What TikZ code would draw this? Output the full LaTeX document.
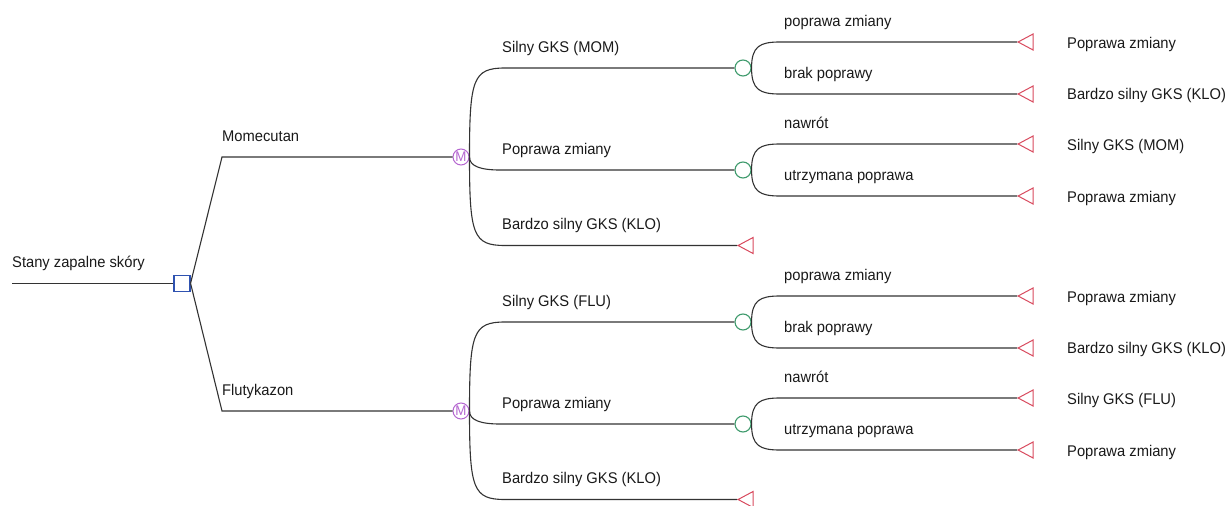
\documentclass[tikz,border=0pt]{standalone}
\usepackage{fontspec}
\setmainfont{Liberation Sans}[FakeStretch=0.95]
\usetikzlibrary{shapes.geometric}
\definecolor{decblue}{HTML}{2F52B0}
\definecolor{mpurple}{HTML}{B465D0}
\definecolor{chgreen}{HTML}{3E9A6C}
\definecolor{endred}{HTML}{D84A5E}
\definecolor{edgegray}{HTML}{333333}
\begin{document}
\begin{tikzpicture}[x=1pt, y=-1pt]
\tikzstyle{txt}      = [anchor=base west, inner sep=0pt, font=\fontsize{15.5}{18}\selectfont, text=black!90]
\tikzstyle{decision} = [rectangle, draw=decblue, line width=1.1pt, minimum size=16pt, inner sep=0pt]
\tikzstyle{markov}   = [circle, draw=mpurple, line width=1pt, minimum size=16pt, inner sep=0pt, text=mpurple, font=\fontsize{14}{14}\selectfont]
\tikzstyle{chance}   = [circle, draw=chgreen, line width=1.1pt, minimum size=16pt, inner sep=0pt]
\tikzstyle{terminal} = [isosceles triangle, isosceles triangle apex angle=56, isosceles triangle stretches, shape border rotate=180, draw=endred, line width=1pt, inner sep=0pt, minimum height=15pt, minimum width=16pt, anchor=apex]
\tikzstyle{edge}     = [draw=edgegray, line width=1.1pt]
\useasboundingbox (0,0) rectangle (1227,506);
% root decision
\coordinate (root) at (12,283.3);
\node[decision] at (182,283.3) (dec) {};
\node[txt] at (12,267.5) (dec_t) {Stany zapalne skóry};
\draw[edge] (root) -- (dec.west);
% one arm per drug
\foreach \dy/\arm/\code in {0/Momecutan/MOM, 254/Flutykazon/FLU} {
\begin{scope}[shift={(0,\dy)}]
\coordinate (k_\code) at (222,157);
\node[markov] at (461,157) (m_\code) {M};
\node[txt] at (222,141.5) (arm_\code) {\arm};
\draw[edge] (dec.east) -- (k_\code) -- (m_\code.west);
% markov states
\node[chance] at (743,68) (c1_\code) {};
\node[chance] at (743,170) (c2_\code) {};
\node[terminal] at (737,245.5) (t3_\code) {};
\coordinate (s1_\code) at (505,68);
\coordinate (s2_\code) at (500,170);
\coordinate (s3_\code) at (505,245.5);
\node[txt] at (502,52.5) () {Silny GKS (\code)};
\node[txt] at (502,154.5) () {Poprawa zmiany};
\node[txt] at (502,229.5) () {Bardzo silny GKS (KLO)};
\draw[edge] (m_\code.east) .. controls +(0,-78) and +(-32,0) .. (s1_\code) -- (c1_\code.west);
\draw[edge] (m_\code.east) .. controls +(0,9) and +(-20,0) .. (s2_\code) -- (c2_\code.west);
\draw[edge] (m_\code.east) .. controls +(0,78) and +(-32,0) .. (s3_\code) -- (t3_\code.apex);
% first chance
\coordinate (u1_\code) at (780,42);
\coordinate (u2_\code) at (780,94);
\node[terminal] at (1017,42) (t11_\code) {};
\node[terminal] at (1017,94) (t12_\code) {};
\node[txt] at (784,26.5) () {poprawa zmiany};
\node[txt] at (784,78.5) () {brak poprawy};
\node[txt] at (1067,48.5) () {Poprawa zmiany};
\node[txt] at (1067,99.5) () {Bardzo silny GKS (KLO)};
\draw[edge] (c1_\code.east) .. controls +(0,-22) and +(-20,0) .. (u1_\code) -- (t11_\code.apex);
\draw[edge] (c1_\code.east) .. controls +(0,22) and +(-20,0) .. (u2_\code) -- (t12_\code.apex);
% second chance
\coordinate (v1_\code) at (780,144);
\coordinate (v2_\code) at (780,196);
\node[terminal] at (1017,144) (t21_\code) {};
\node[terminal] at (1017,196) (t22_\code) {};
\node[txt] at (784,128.5) () {nawrót};
\node[txt] at (784,180.5) () {utrzymana poprawa};
\node[txt] at (1067,150.5) () {Silny GKS (\code)};
\node[txt] at (1067,202.5) () {Poprawa zmiany};
\draw[edge] (c2_\code.east) .. controls +(0,-22) and +(-20,0) .. (v1_\code) -- (t21_\code.apex);
\draw[edge] (c2_\code.east) .. controls +(0,22) and +(-20,0) .. (v2_\code) -- (t22_\code.apex);
\end{scope}
}
\end{tikzpicture}
\end{document}
